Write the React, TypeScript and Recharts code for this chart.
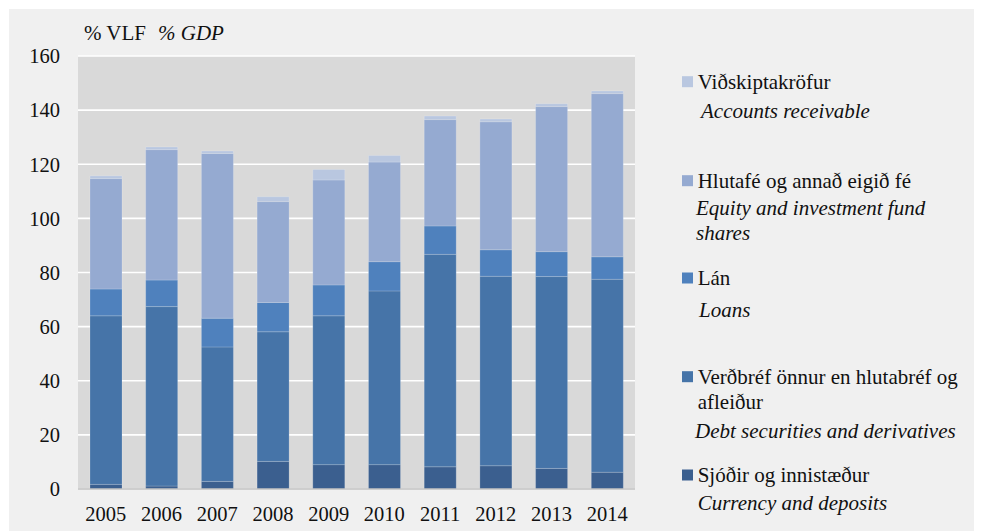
import React from "react";
import { BarChart, Bar, XAxis, YAxis, CartesianGrid } from "recharts";

const years = ["2005", "2006", "2007", "2008", "2009", "2010", "2011", "2012", "2013", "2014"];
const sjodir = [1.7, 1.1, 2.8, 10.2, 9.0, 9.0, 8.2, 8.6, 7.6, 6.2];
const verdbref = [62.3, 66.3, 49.7, 47.9, 55.0, 64.2, 78.5, 70.0, 70.9, 71.3];
const lan = [9.9, 9.8, 10.6, 10.8, 11.4, 10.8, 10.5, 9.8, 9.2, 8.3];
const hlutafe = [40.8, 48.2, 60.9, 37.3, 38.8, 36.8, 39.3, 47.3, 53.6, 60.3];
const vidskipta = [1.0, 1.0, 0.9, 1.8, 3.9, 2.4, 1.3, 1.0, 1.1, 1.0];
const yTicks = [0, 20, 40, 60, 80, 100, 120, 140, 160];

const data = years.map((y, i) => ({
  year: y,
  sjodir: sjodir[i],
  verdbref: verdbref[i],
  lan: lan[i],
  hlutafe: hlutafe[i],
  vidskipta: vidskipta[i],
}));

const FONT = "Liberation Serif";
const LEG_FS = 21;

const series = [
  { key: "sjodir", color: "#3b5f8f" },
  { key: "verdbref", color: "#4674a8" },
  { key: "lan", color: "#4f81bd" },
  { key: "hlutafe", color: "#95aad1" },
  { key: "vidskipta", color: "#b9c7e0" },
];

type LegendEntry = {
  color: string;
  square: number;
  lines: { text: string; italic?: boolean; y: number; x: number }[];
};

const legendEntries: LegendEntry[] = [
  {
    color: "#b9c7e0",
    square: 72.7,
    lines: [
      { text: "Viðskiptakröfur", y: 72.7, x: 688.7 },
      { text: "Accounts receivable", italic: true, y: 102, x: 692 },
    ],
  },
  {
    color: "#95aad1",
    square: 171.7,
    lines: [
      { text: "Hlutafé og annað eigið fé", y: 171.7, x: 688.7 },
      { text: "Equity and investment fund", italic: true, y: 199, x: 687 },
      { text: "shares", italic: true, y: 224, x: 687 },
    ],
  },
  {
    color: "#4f81bd",
    square: 269,
    lines: [
      { text: "Lán", y: 269, x: 688.7 },
      { text: "Loans", italic: true, y: 301, x: 690 },
    ],
  },
  {
    color: "#4674a8",
    square: 367.7,
    lines: [
      { text: "Verðbréf önnur en hlutabréf og", y: 367.7, x: 688.7 },
      { text: "afleiður", y: 392.7, x: 688.7 },
      { text: "Debt securities and derivatives", italic: true, y: 421.7, x: 686 },
    ],
  },
  {
    color: "#3b5f8f",
    square: 466,
    lines: [
      { text: "Sjóðir og innistæður", y: 466, x: 688.7 },
      { text: "Currency and deposits", italic: true, y: 493.7, x: 688.7 },
    ],
  },
];

const Overlay = () => (
  <svg
    width={973}
    height={522}
    style={{ position: "absolute", left: 0, top: 0, pointerEvents: "none" }}
  >
    <text x={75} y={24 + 7} fontFamily={FONT} fontSize={LEG_FS} fill="#111">
      <tspan>% VLF</tspan>
      <tspan dx={12} fontStyle="italic">% GDP</tspan>
    </text>
    {legendEntries.map((e, i) => (
      <g key={i}>
        <rect x={673} y={e.square - 5.5} width={11} height={11} fill={e.color} />
        {e.lines.map((l, j) => (
          <text
            key={j}
            x={l.x}
            y={l.y + 7}
            fontFamily={FONT}
            fontSize={LEG_FS}
            fontStyle={l.italic ? "italic" : "normal"}
            fill="#111"
          >
            {l.text}
          </text>
        ))}
      </g>
    ))}
  </svg>
);

export default function App() {
  return (
    <div style={{ position: "relative", width: 974, height: 523, background: "#ffffff" }}>
      <style>{`body{overflow:hidden}`}</style>
      <div
        style={{
          position: "absolute",
          left: 1,
          top: 1,
          width: 973,
          height: 522,
          background: "#f0f0f0",
        }}
      >
        <div style={{ position: "absolute", left: 0, top: 0, width: 973, height: 522 }}>
          <BarChart
            width={973}
            height={522}
            data={data}
            margin={{ top: 47, right: 347, bottom: 12, left: 0 }}
            barSize={32}
          >
            <CartesianGrid
              vertical={false}
              horizontal={true}
              fill="#d9d9d9"
              fillOpacity={1}
              stroke="#ffffff"
              strokeWidth={1.6}
            />
            <XAxis
              dataKey="year"
              axisLine={{ stroke: "#bfbfbf", strokeWidth: 1.5 }}
              tickLine={false}
              tickSize={0}
              tickMargin={17}
              height={30}
              tick={{ fontFamily: FONT, fontSize: 20.5, fill: "#111" }}
              interval={0}
            />
            <YAxis
              domain={[0, 160]}
              ticks={yTicks}
              axisLine={false}
              tickLine={false}
              tickSize={0}
              tickMargin={18}
              width={69}
              tick={{ fontFamily: FONT, fontSize: 20.5, fill: "#111" }}
              interval={0}
            />
            {series.map((s) => (
              <Bar
                key={s.key}
                dataKey={s.key}
                stackId="a"
                fill={s.color}
                stroke="#ffffff"
                strokeOpacity={0.18}
                strokeWidth={1}
                isAnimationActive={false}
              />
            ))}
          </BarChart>
        </div>
        <Overlay />
      </div>
    </div>
  );
}
